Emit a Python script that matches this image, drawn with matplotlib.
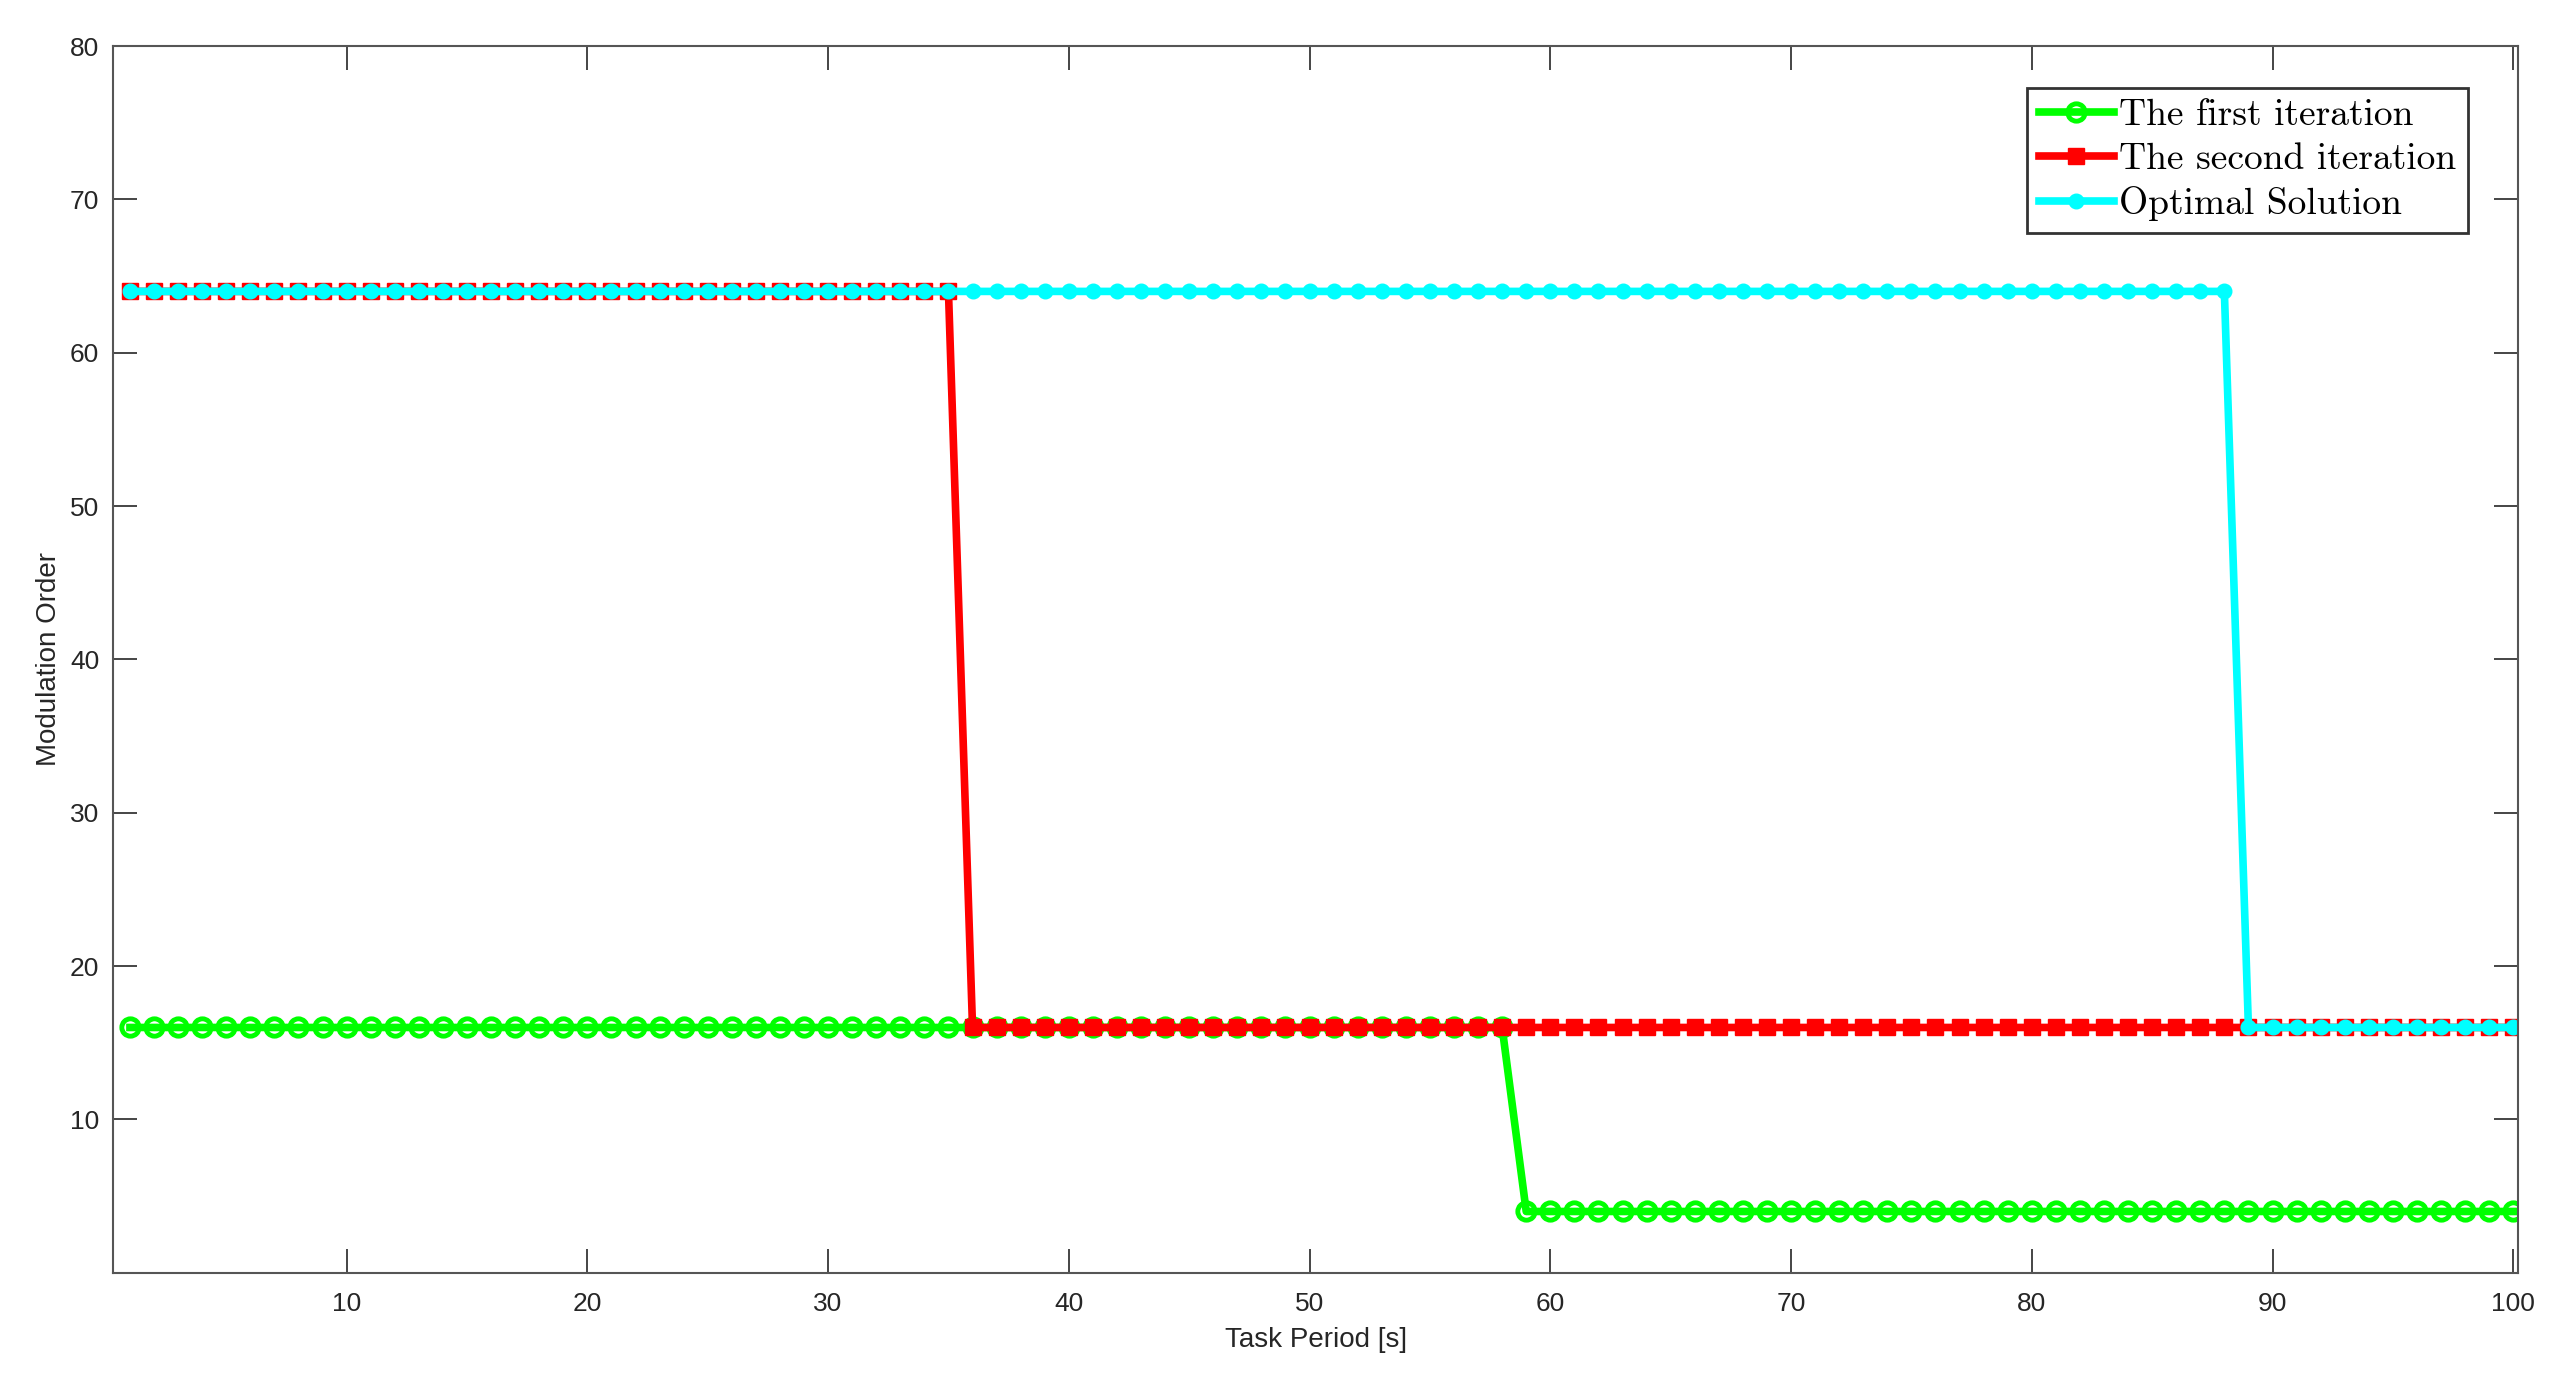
import matplotlib
matplotlib.use('Agg')
import matplotlib.pyplot as plt
import numpy as np


# Dados
periodos = np.arange(1, 101)
primeira_iteracao = [16] * 58 + [4] * 42
segunda_iteracao = [64] * 35 + [16] * 65
solucao_otima = [64] * 88 + [16] * 12

rotulos = ['The first iteration', 'The second iteration', 'Optimal Solution']
xticks = [10, 20, 30, 40, 50, 60, 70, 80, 90, 100]
yticks = [10, 20, 30, 40, 50, 60, 70, 80]


def plot_modulacao():
    plt.rcParams['font.family'] = ['Liberation Sans', 'DejaVu Sans']

    fig = plt.figure(figsize=(25.59, 13.79), dpi=100)
    ax = fig.add_axes([0.0442, 0.077, 0.9398, 0.8896])

    ax.plot(periodos, primeira_iteracao, color='#00ff00', lw=5.5,
            marker='o', ms=12.5, mfc='none', mec='#00ff00', mew=3.5,
            label=rotulos[0])
    ax.plot(periodos, segunda_iteracao, color='#ff0000', lw=5.5,
            marker='s', ms=11, mfc='#ff0000', mec='#ff0000',
            label=rotulos[1])
    ax.plot(periodos, solucao_otima, color='#00ffff', lw=5.5,
            marker='o', ms=10.5, mfc='#00ffff', mec='#00ffff',
            label=rotulos[2])

    ax.set_xlim(0.3, 100.2)
    ax.set_ylim(0, 80)
    ax.set_xticks(xticks)
    ax.set_yticks(yticks)
    ax.tick_params(direction='in', length=17, width=1.2, colors='#262626',
                   labelsize=19, top=True, right=True, pad=10)
    ax.tick_params(axis='x', pad=14)
    for s in ax.spines.values():
        s.set_color('#555555')
        s.set_linewidth(1.5)

    ax.set_xlabel('Task Period [s]', fontsize=20, color='#262626', labelpad=8)
    ax.set_ylabel('Modulation Order', fontsize=20, color='#262626', labelpad=6)

    leg = ax.legend(loc='upper right', bbox_to_anchor=(0.979, 0.966),
                    prop={'family': 'cmr10', 'size': 27}, fancybox=False,
                    framealpha=1, edgecolor='#333333', handlelength=2.0,
                    borderpad=0.3, labelspacing=0.28, handletextpad=0.15,
                    borderaxespad=0)
    leg.get_frame().set_linewidth(2)

    fig.savefig('out.png', dpi=100)


if __name__ == '__main__':
    plot_modulacao()
